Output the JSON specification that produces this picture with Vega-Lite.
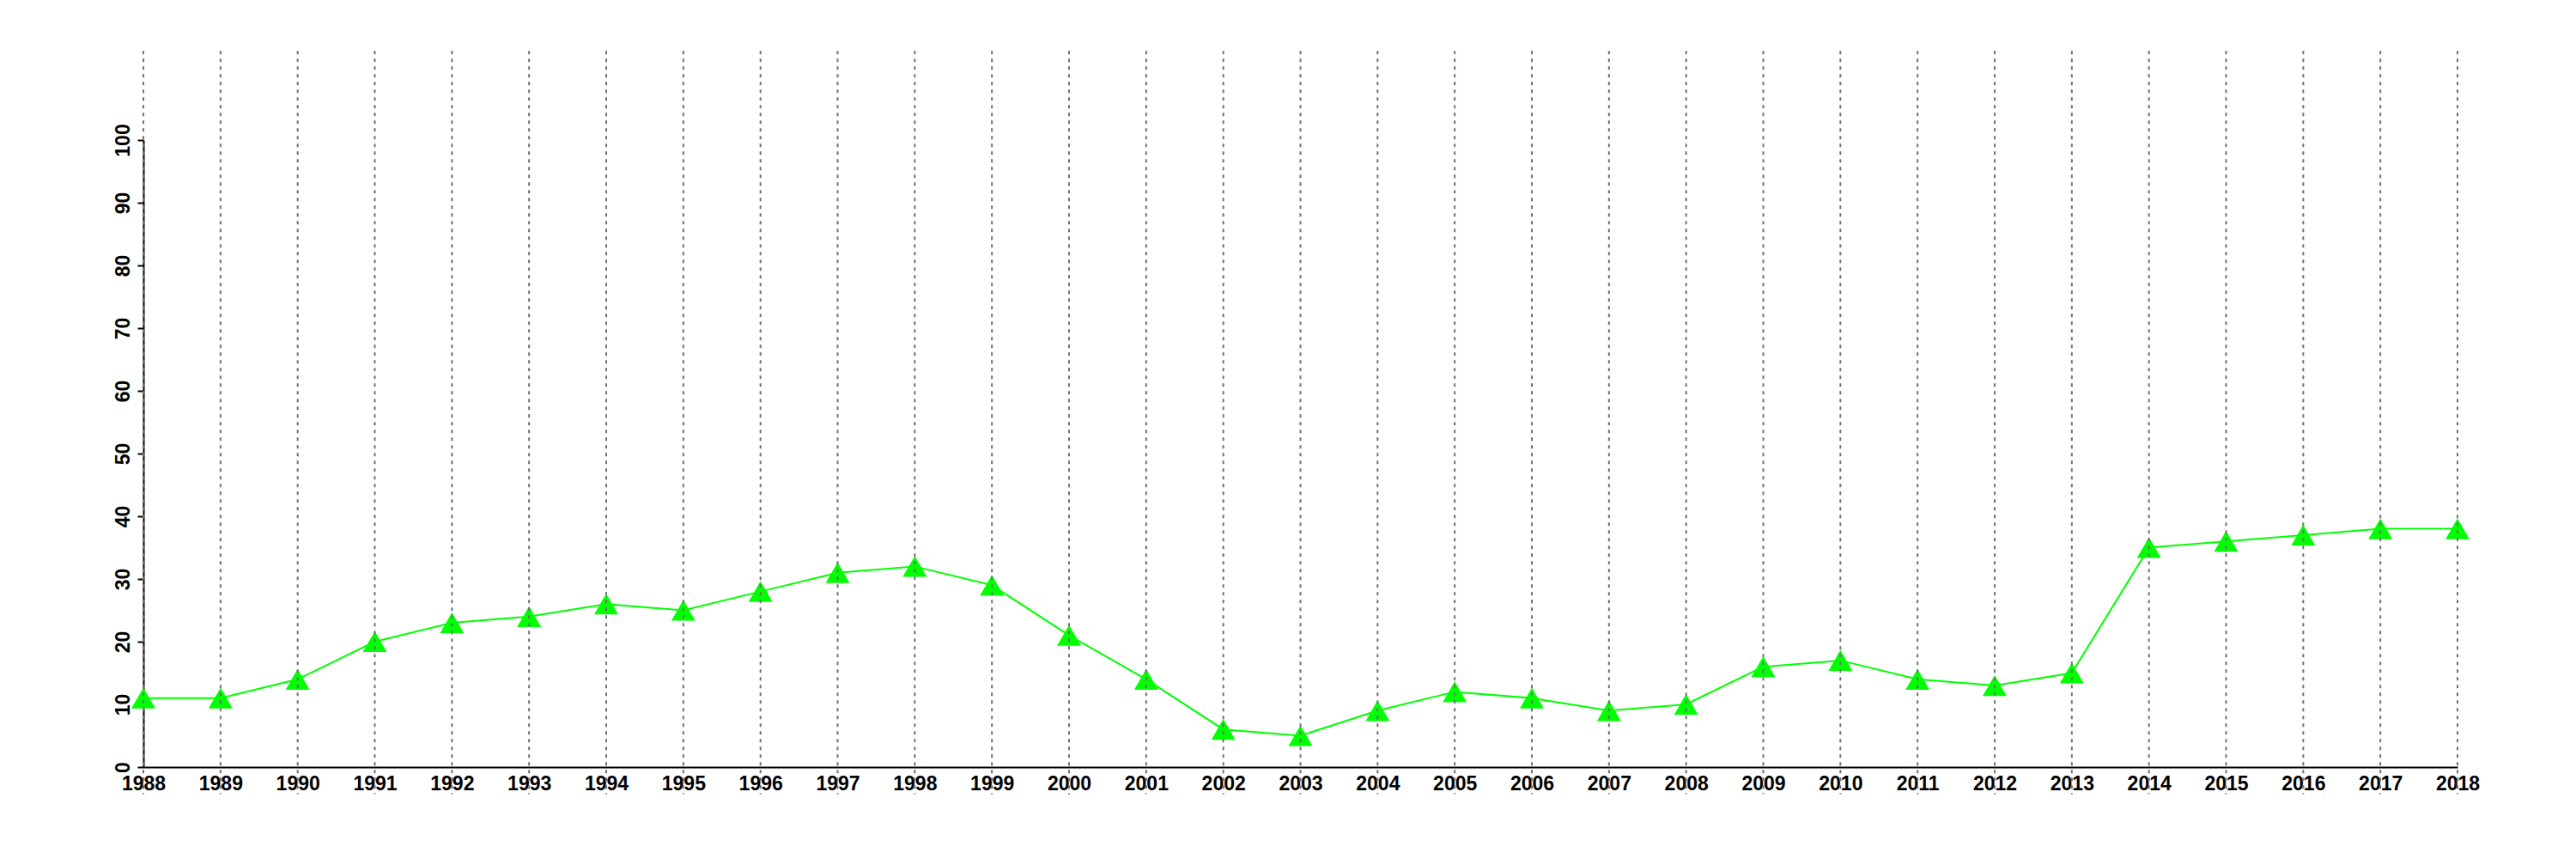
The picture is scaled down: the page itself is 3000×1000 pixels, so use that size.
{
  "$schema": "https://vega.github.io/schema/vega-lite/v6.json",
  "autosize": "none",
  "width": 2695,
  "height": 730,
  "padding": {"left": 167, "top": 163, "right": 138, "bottom": 107},
  "background": "white",
  "config": {
    "view": {"stroke": null},
    "axis": {
      "labelFont": "Liberation Sans",
      "labelFontWeight": "bold",
      "labelFontSize": 23,
      "labelColor": "black",
      "domainColor": "black",
      "domainWidth": 2,
      "tickColor": "black",
      "tickWidth": 2,
      "tickSize": 7,
      "grid": false,
      "title": null
    }
  },
  "data": {
    "values": [
      {"year": 1988, "value": 11},
      {"year": 1989, "value": 11},
      {"year": 1990, "value": 14},
      {"year": 1991, "value": 20},
      {"year": 1992, "value": 23},
      {"year": 1993, "value": 24},
      {"year": 1994, "value": 26},
      {"year": 1995, "value": 25},
      {"year": 1996, "value": 28},
      {"year": 1997, "value": 31},
      {"year": 1998, "value": 32},
      {"year": 1999, "value": 29},
      {"year": 2000, "value": 21},
      {"year": 2001, "value": 14},
      {"year": 2002, "value": 6},
      {"year": 2003, "value": 5},
      {"year": 2004, "value": 9},
      {"year": 2005, "value": 12},
      {"year": 2006, "value": 11},
      {"year": 2007, "value": 9},
      {"year": 2008, "value": 10},
      {"year": 2009, "value": 16},
      {"year": 2010, "value": 17},
      {"year": 2011, "value": 14},
      {"year": 2012, "value": 13},
      {"year": 2013, "value": 15},
      {"year": 2014, "value": 35},
      {"year": 2015, "value": 36},
      {"year": 2016, "value": 37},
      {"year": 2017, "value": 38},
      {"year": 2018, "value": 38}
    ]
  },
  "layer": [
    {
      "mark": {"type": "line", "color": "#00FF00", "strokeWidth": 2},
      "encoding": {
        "x": {
          "field": "year", "type": "quantitative",
          "scale": {"domain": [1988, 2018], "nice": false, "zero": false},
          "axis": {
            "values": [1988,1989,1990,1991,1992,1993,1994,1995,1996,1997,1998,1999,2000,2001,2002,2003,2004,2005,2006,2007,2008,2009,2010,2011,2012,2013,2014,2015,2016,2017,2018],
            "format": "d",
            "ticks": false,
            "labelPadding": 8,
            "labelOverlap": false,
            "labelFlush": false
          }
        },
        "y": {
          "field": "value", "type": "quantitative",
          "scale": {"domain": [0, 100], "nice": false},
          "axis": {
            "values": [0,10,20,30,40,50,60,70,80,90,100],
            "labelAngle": 270,
            "labelAlign": "center",
            "labelBaseline": "bottom",
            "labelPadding": 5,
            "labelOverlap": false
          }
        }
      }
    },
    {
      "mark": {"type": "point", "shape": "triangle-up", "filled": true, "color": "#00FF00", "opacity": 1, "size": 780},
      "encoding": {
        "x": {"field": "year", "type": "quantitative"},
        "y": {"field": "value", "type": "quantitative"}
      }
    },
    {
      "mark": {"type": "rule", "color": "#707070", "strokeWidth": 2, "strokeDash": [4, 5]},
      "encoding": {
        "x": {"field": "year", "type": "quantitative"},
        "y": {"datum": 114.2},
        "y2": {"datum": -4.3}
      }
    }
  ]
}
